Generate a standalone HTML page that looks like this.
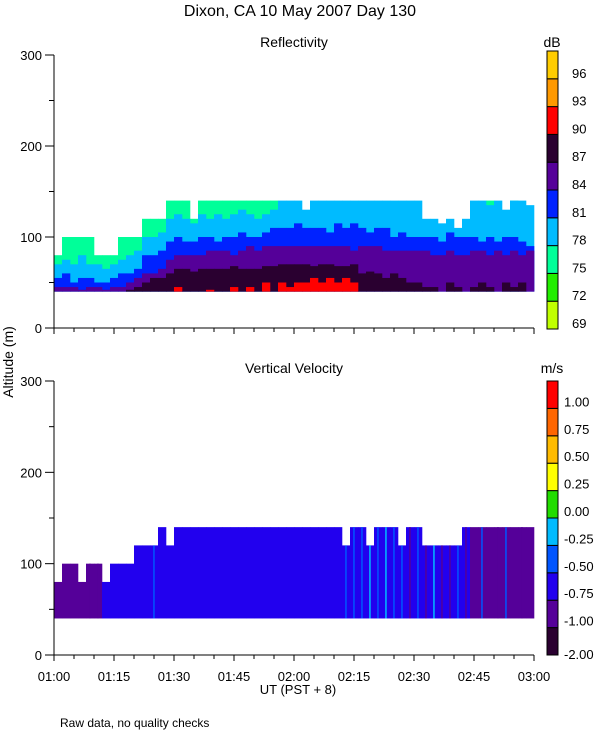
<!DOCTYPE html>
<html><head><meta charset="utf-8">
<style>
html,body{margin:0;padding:0;background:#fff;}
svg{display:block;font-family:"Liberation Sans",sans-serif;}
text{fill:#000;}
</style></head>
<body>
<svg id="chart" width="600" height="750" viewBox="0 0 600 750" xmlns="http://www.w3.org/2000/svg">
<text x="300" y="16" font-size="16" text-anchor="middle">Dixon, CA 10 May 2007  Day 130</text>
<text x="294" y="47" font-size="14" text-anchor="middle">Reflectivity</text>
<text x="294" y="373" font-size="14" text-anchor="middle">Vertical Velocity</text>
<text x="552" y="47" font-size="14" text-anchor="middle">dB</text>
<text x="552" y="373" font-size="14" text-anchor="middle">m/s</text>
<text transform="translate(13,362) rotate(-90)" font-size="14" text-anchor="middle">Altitude (m)</text>
<text x="298" y="694" font-size="13" text-anchor="middle">UT  (PST + 8)</text>
<text x="60" y="727" font-size="12">Raw data, no quality checks</text>
<g id="g1"></g>
<g id="g2"></g>
</svg>
<script>
// ---- data (60 bins, 2 minutes each, 01:00-03:00 UT) ----
const timeTicks = ["01:00","01:15","01:30","01:45","02:00","02:15","02:30","02:45","03:00"];
const altTicks = [0,100,200,300];
const dbLabels = ["69","72","75","78","81","84","87","90","93","96"];
const velLabels = ["-2.00","-1.00","-0.75","-0.50","-0.25","0.00","0.25","0.50","0.75","1.00"];
const refTop75 = [80,100,100,100,100,80,80,80,100,100,100,120,120,120,140,140,140,120,140,140,140,140,140,140,140,140,140,140,0,0,0,0,0,0,0,0,0,0,0,0,0,0,0,0,0,0,0,0,0,0,0,0,0,0,140,0,0,140,0,0];
const refTop78 = [70,75,70,80,70,70,65,70,75,80,85,100,100,105,120,125,120,115,125,120,125,120,125,130,125,120,125,130,140,140,140,130,140,140,140,140,140,140,140,140,140,140,140,140,140,140,120,120,115,120,110,120,140,140,135,140,130,140,140,135];
const refTop81 = [55,60,50,55,55,50,50,55,60,60,65,80,80,85,95,100,95,95,100,100,95,100,100,105,100,100,105,110,110,110,115,110,110,110,105,115,110,115,110,105,110,110,100,105,100,100,100,100,95,105,100,100,100,95,100,95,100,100,95,90];
const refTop84 = [45,45,45,42,45,45,42,45,45,50,55,60,60,65,75,80,80,80,80,85,85,85,80,85,90,85,90,90,90,90,90,90,90,90,90,90,90,85,90,90,90,85,85,85,85,85,85,80,80,85,80,80,85,85,80,85,80,85,80,85];
const refTop87 = [0,0,0,0,0,0,0,0,0,42,45,50,55,55,60,65,65,62,65,65,65,65,68,65,65,65,68,68,70,70,70,70,68,70,70,68,68,70,60,62,60,55,60,55,50,50,45,45,0,50,45,0,45,50,45,0,50,45,50,0];
const refTop90 = [0,0,0,0,0,0,0,0,0,0,0,0,0,0,0,45,0,0,0,42,0,0,45,0,45,0,50,0,50,45,50,50,55,50,55,50,55,50,0,0,0,0,0,0,0,0,0,0,0,0,0,0,0,0,0,0,0,0,0,0];
const velTop = [80,100,100,80,100,100,80,100,100,100,120,120,120,140,120,140,140,140,140,140,140,140,140,140,140,140,140,140,140,140,140,140,140,140,140,140,120,140,140,120,140,140,140,120,140,140,120,120,120,120,120,140,140,140,140,140,140,140,140,140];
const velClass = [1,1,1,1,1,1,2,2,2,2,2,2,2,2,2,2,2,2,2,2,2,2,2,2,2,2,2,2,2,2,2,2,2,2,2,2,2,2,2,2,2,2,2,2,2,2,2,2,2,2,2,2,1,1,1,1,1,1,1,1];
const velStreak = [0,0,0,0,1,1,0,0,0,0,0,0,3,0,0,0,0,0,0,0,0,0,0,0,0,0,0,0,0,0,0,0,0,0,0,0,3,3,3,4,3,4,3,3,1,3,1,4,1,1,3,1,0,3,0,1,3,0,1,0];

const refColors = ["#c0ff00","#22ee00","#00ff99","#00bbff","#0022ff","#550099","#2a0030","#ff0000","#ff9900","#ffcc00"];
const velColors = ["#2a0030","#550099","#2200ee","#0055ff","#00bbff","#22dd00","#ffff00","#ffbb00","#ff6600","#ff0000"];

const NS = "http://www.w3.org/2000/svg";
const X0 = 54, X1 = 534, N = refTop78.length;
function xOf(i){ return X0 + (X1 - X0) * i / N; }
function mk(tag, attrs, parent){ const e = document.createElementNS(NS, tag); for (const k in attrs) e.setAttribute(k, attrs[k]); parent.appendChild(e); return e; }

function drawPanel(g, yTop, yBot, cTop, cBot, isRef){
  const yOf = v => yBot - (yBot - yTop) * v / 300;
  const base = 40;
  const w = (X1 - X0) / N;
  if (isRef) {
    const layers = [[refTop75,2],[refTop78,3],[refTop81,4],[refTop84,5],[refTop87,6],[refTop90,7]];
    layers.forEach(([arr, c]) => {
      for (let i = 0; i < N; i++) {
        if (arr[i] <= base) continue;
        const r = mk("rect", {x: xOf(i), y: yOf(arr[i]), width: w + 0.3, height: yOf(base) - yOf(arr[i]), fill: refColors[c]}, g);
        
        
      }
    });
  } else {
    for (let i = 0; i < N; i++) {
      const r = mk("rect", {x: xOf(i), y: yOf(velTop[i]), width: w + 0.3, height: yOf(base) - yOf(velTop[i]), fill: velColors[velClass[i]]}, g);
      
      
      if (velStreak[i] > 0) {
        const s = mk("rect", {x: xOf(i) + w * 0.4, y: yOf(velTop[i]), width: 1.5, height: yOf(base) - yOf(velTop[i]), fill: velColors[velStreak[i]]}, g);
        
        
      }
    }
  }
  mk("line", {x1: X0, y1: yTop, x2: X0, y2: yBot, stroke: "#000", "stroke-width": 1}, g);
  mk("line", {x1: X0, y1: yBot, x2: X1, y2: yBot, stroke: "#000", "stroke-width": 1}, g);
  for (let v = 0; v <= 300; v += 50) {
    const major = v % 100 === 0;
    mk("line", {x1: X0 - (major ? 9 : 5), y1: yOf(v), x2: X0, y2: yOf(v), stroke: "#000"}, g);
  }
  altTicks.forEach(v => {
    const t = mk("text", {x: X0 - 12, y: yOf(v) + 5, "font-size": 13, "text-anchor": "end"}, g);
    t.textContent = v;
    
    
  });
  for (let m = 0; m <= 120; m += 5) {
    const major = m % 15 === 0;
    const x = X0 + (X1 - X0) * m / 120;
    mk("line", {x1: x, y1: yBot, x2: x, y2: yBot + (major ? 6 : 4), stroke: "#000"}, g);
  }
  const cx = 547, cw = 11, labels = isRef ? dbLabels : velLabels, cols = isRef ? refColors : velColors;
  const bh = (cBot - cTop) / 10;
  for (let k = 0; k < 10; k++) {
    const yb = cBot - k * bh;
    const r = mk("rect", {x: cx, y: yb - bh, width: cw, height: bh, fill: cols[k], stroke: "#000", "stroke-width": 1}, g);
    
    
    const t = mk("text", {x: isRef ? 572 : 564, y: yb + (isRef ? -1 : (k === 0 ? 4 : -2)), "font-size": 13}, g);
    t.textContent = labels[k];
    
    
  }
  if (!isRef) {
    timeTicks.forEach((s, j) => {
      const t = mk("text", {x: X0 + (X1 - X0) * j / (timeTicks.length - 1), y: yBot + 26, "font-size": 13, "text-anchor": "middle"}, g);
      t.textContent = s;
      
      
    });
  }
}
drawPanel(document.getElementById("g1"), 55, 328, 51, 329, true);
drawPanel(document.getElementById("g2"), 381, 655, 381, 655, false);
</script>
</body></html>
